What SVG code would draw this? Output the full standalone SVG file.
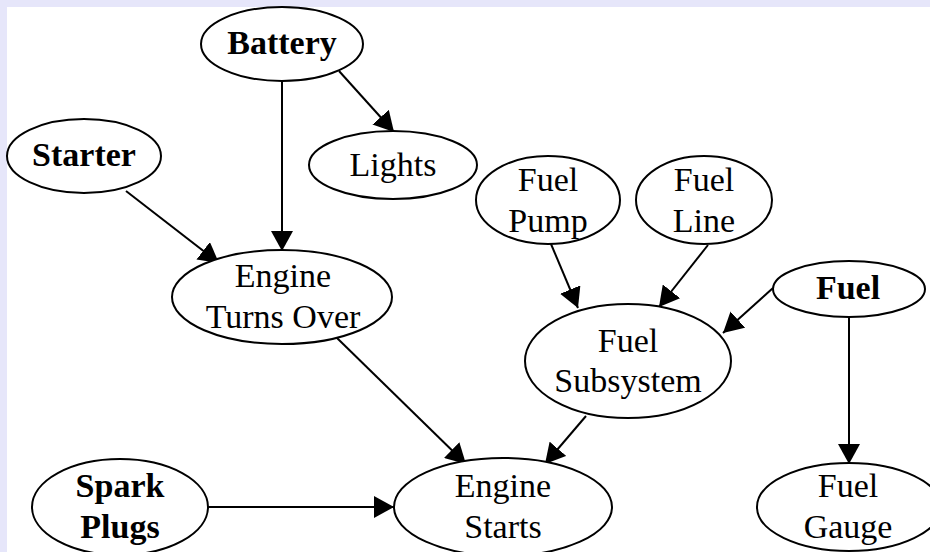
<svg xmlns="http://www.w3.org/2000/svg" width="930" height="552" viewBox="0 0 930 552">
<style>
.n ellipse{fill:#fff;stroke:#000;stroke-width:2}
.n text{font-family:"Liberation Serif","Times New Roman",serif;font-size:34px;fill:#000;text-anchor:middle}
.b text{font-weight:bold}
.e path{fill:none;stroke:#000;stroke-width:2;marker-end:url(#ah)}
</style>
<defs>
<marker id="ah" markerUnits="userSpaceOnUse" viewBox="0 0 20 22" refX="20" refY="11" markerWidth="20" markerHeight="22" orient="auto">
<path d="M0,0 L20,11 L0,22 z" fill="#000"/>
</marker>
</defs>
<rect width="930" height="552" fill="#e6e6fa"/>
<rect x="7" y="7" width="923" height="545" fill="#fff"/>
<g id="edges" class="e">
<path d="M282,81 L282,251"/>
<path d="M339,71 L394,132"/>
<path d="M126,191 L219,263"/>
<path d="M337,338 L466,464"/>
<path d="M208,507 L394,507"/>
<path d="M551,244 L578,308"/>
<path d="M708,245 L659,307"/>
<path d="M773,288 L723,333"/>
<path d="M849,317 L849,464"/>
<path d="M586,416 L545,464"/>
</g>
<g id="battery" class="n b"><ellipse cx="282" cy="44" rx="81" ry="37"/><text x="282" y="54">Battery</text></g>
<g id="starter" class="n b"><ellipse cx="84" cy="156" rx="77" ry="37"/><text x="84" y="166">Starter</text></g>
<g id="lights" class="n"><ellipse cx="393" cy="165" rx="84" ry="34"/><text x="393" y="176">Lights</text></g>
<g id="fuel-pump" class="n"><ellipse cx="548" cy="200" rx="72" ry="44"/><text x="548" y="191">Fuel</text><text x="548" y="232">Pump</text></g>
<g id="fuel-line" class="n"><ellipse cx="704" cy="200" rx="68" ry="44"/><text x="704" y="191">Fuel</text><text x="704" y="232">Line</text></g>
<g id="engine-turns-over" class="n"><ellipse cx="282" cy="297" rx="110" ry="47"/><text x="283" y="287">Engine</text><text x="283" y="328">Turns Over</text></g>
<g id="fuel" class="n b"><ellipse cx="849" cy="289" rx="76" ry="28"/><text x="848" y="299">Fuel</text></g>
<g id="fuel-subsystem" class="n"><ellipse cx="628" cy="361" rx="103" ry="57"/><text x="628" y="352">Fuel</text><text x="628" y="392">Subsystem</text></g>
<g id="spark-plugs" class="n b"><ellipse cx="120" cy="507" rx="88" ry="48"/><text x="120" y="497">Spark</text><text x="120" y="538">Plugs</text></g>
<g id="engine-starts" class="n"><ellipse cx="503" cy="507" rx="109" ry="49"/><text x="503" y="497">Engine</text><text x="503" y="538">Starts</text></g>
<g id="fuel-gauge" class="n"><ellipse cx="849" cy="507" rx="92" ry="44"/><text x="848" y="497">Fuel</text><text x="848" y="538">Gauge</text></g>
</svg>
